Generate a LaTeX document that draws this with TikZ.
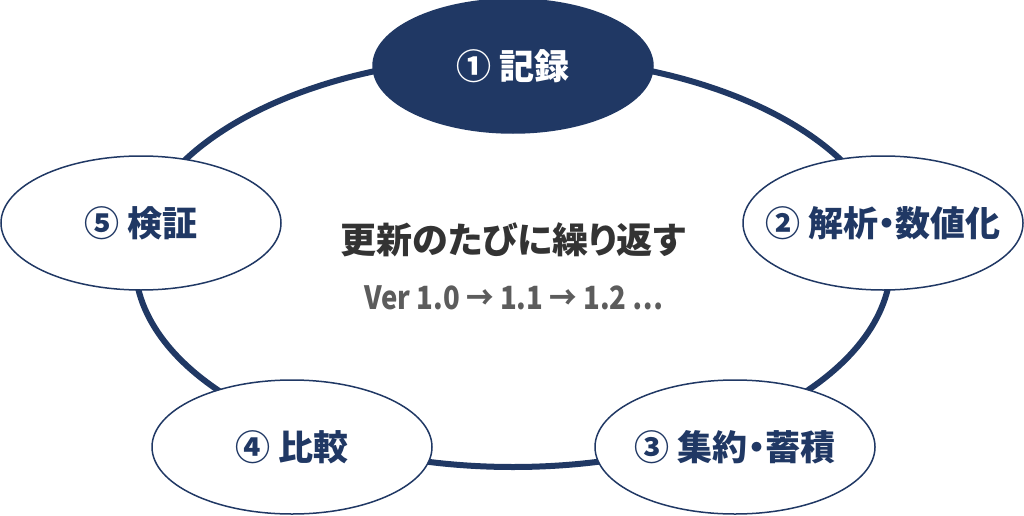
\documentclass[tikz,border=0pt]{standalone}
\usepackage{fontspec}
\setmainfont{Noto Sans CJK JP}[RawFeature=+palt]
\newfontfamily\verfont{Noto Sans CJK JP}[FakeStretch=0.86]
\usetikzlibrary{shapes.geometric}
\definecolor{navy}{RGB}{32,56,100}
\definecolor{inkgray}{RGB}{51,51,51}
\definecolor{softgray}{RGB}{92,92,92}
\newcommand{\steplabel}[1]{\makebox[0pt]{#1}}

\begin{document}
\begin{tikzpicture}[
  x=1pt, y=-1pt,
  ring/.style={draw=navy,line width=6pt},
  enode/.style={draw=navy,ellipse,line width=1.5pt,fill=white,minimum width=280pt,minimum height=134pt,inner sep=0pt,text=navy,font=\fontsize{35}{40}\selectfont\bfseries},
  fnode/.style={enode,fill=navy,text=white}
]
  \useasboundingbox (0,0) rectangle (1024,516);

  % cycle
  \coordinate (c) at (513,262);
  \draw[ring] (c) ellipse [x radius=378pt, y radius=205pt];

  % steps
  \node[fnode] (s1) at (513,66) {\steplabel{① 記録}};
  \node[enode] (s2) at (883,223) {\steplabel{② 解析・数値化}};
  \node[enode] (s3) at (735,447) {\steplabel{③ 集約・蓄積}};
  \node[enode] (s4) at (292,447) {\steplabel{④ 比較}};
  \node[enode] (s5) at (141,223) {\steplabel{⑤ 検証}};

  % center
  \node[text=inkgray,font=\fontsize{36}{40}\selectfont\bfseries] (title) at (513,240) {更新のたびに繰り返す};
  \node[text=softgray,font=\verfont\fontsize{32}{36}\selectfont\bfseries] (ver) at (514,298) {Ver 1.0 → 1.1 → 1.2 …};
\end{tikzpicture}
\end{document}
